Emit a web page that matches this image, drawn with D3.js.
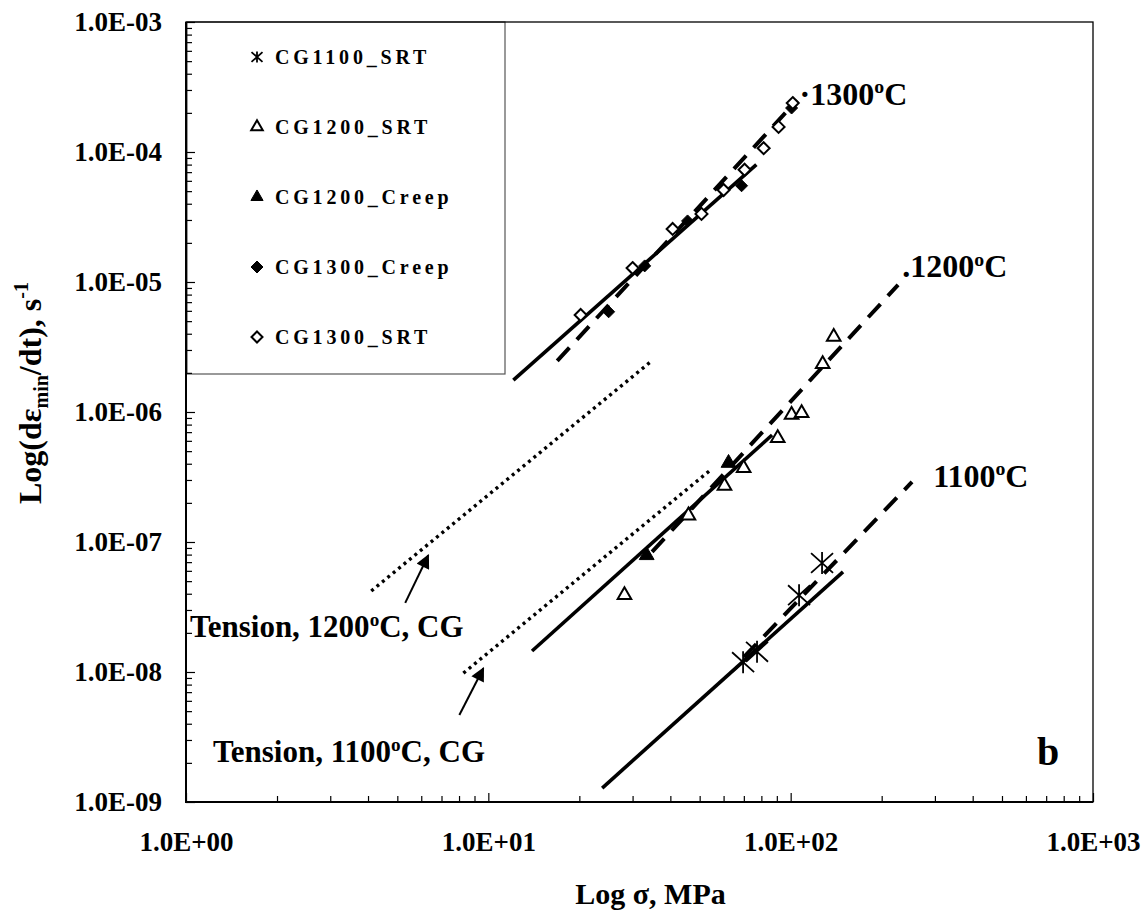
<!DOCTYPE html>
<html>
<head>
<meta charset="utf-8">
<script src="https://cdn.jsdelivr.net/npm/d3@7"></script>
<style>
body { margin: 0; background: #fff; }
text { font-family: "Liberation Serif", "Times New Roman", serif; font-weight: bold; fill: #000; }
</style>
</head>
<body>
<div id="chart"></div>
<script>

// stress (MPa), minimum creep rate (1/s)
var srt1100   = [[69.6, 1.19e-8], [77.4, 1.43e-8], [106.6, 3.9e-8], [127, 6.9e-8]]
var srt1200   = [[28.2, 3.9e-8], [45.9, 1.6e-7], [60.4, 2.7e-7], [69.9, 3.7e-7], [90.6, 6.3e-7],
                 [100.7, 9.5e-7], [108.7, 9.8e-7], [127.6, 2.34e-6], [138.8, 3.78e-6]]
var creep1200 = [[33.4, 7.9e-8], [62.3, 4.05e-7]]
var creep1300 = [[25, 5.9e-6], [32.9, 1.33e-5], [45.6, 2.95e-5], [68.8, 5.5e-5], [100.7, 2.18e-4]]
var srt1300   = [[20.2, 5.57e-6], [30, 1.28e-5], [40.7, 2.56e-5], [50.7, 3.34e-5], [60, 5.1e-5],
                 [70.4, 7.3e-5], [81.4, 1.07e-4], [91.2, 1.56e-4], [101.6, 2.38e-4]]

// fitted lines (end points)
var fit1300 = [[12.1, 1.76e-6], [77, 8.0e-5]]
var fit1300b = [[16.9, 2.47e-6], [105, 2.5e-4]]
var fit1200 = [[13.95, 1.45e-8], [86.8, 6.65e-7]]
var fit1200b = [[34.8, 8.4e-8], [226.6, 9.5e-6]]
var fit1100 = [[23.8, 1.28e-9], [149, 5.9e-8]]
var fit1100b = [[70, 1.3e-8], [252, 2.9e-7]]
var tension1200 = [[4.1, 4.2e-8], [34.4, 2.43e-6]]
var tension1100 = [[8.27, 9.8e-9], [54.3, 3.58e-7]]
var arrow1200 = [[5.31, 3.4e-8], [6.33, 7.9e-8]]
var arrow1100 = [[8.02, 4.67e-9], [9.63, 1.07e-8]]

var legendNames = ['CG1100_SRT', 'CG1200_SRT', 'CG1200_Creep', 'CG1300_Creep', 'CG1300_SRT']
var xMajor = [1, 10, 100, 1000]
var yMajor = [1e-9, 1e-8, 1e-7, 1e-6, 1e-5, 1e-4, 1e-3]

w = 1148
h = 910

var svg = d3.select("#chart")
  .append("svg")
  .attr("width", w)
  .attr("height", h)

var x = d3.scaleLog().domain([1, 1000]).range([186, 1093])
var y = d3.scaleLog().domain([1e-9, 1e-3]).range([802, 22])

function fmt(v) {
    var e = Math.round(Math.log10(v))
    var s = Math.abs(e) < 10 ? "0" + Math.abs(e) : "" + Math.abs(e)
    return "1.0E" + (e < 0 ? "-" : "+") + s
}

var xMinor = [], yMinor = []
for (var e = 0; e < 3; e++) for (var m = 2; m < 10; m++) xMinor.push(m * Math.pow(10, e))
for (var e = -9; e < -3; e++) for (var m = 2; m < 10; m++) yMinor.push(m * Math.pow(10, e))

// legend box (axis ticks show on top of it)
var leg = svg.append("g")
leg.append("rect")
   .attr("x", 187).attr("y", 22)
   .attr("width", 318).attr("height", 352)
   .style("fill", "#fff")
   .style("stroke", "#555")
   .style("stroke-width", 1.2)

// axes
function axisStyle(g) {
    g.select(".domain").remove()
    g.selectAll("line").style("stroke", "#000").style("stroke-width", 1.2)
    g.attr("font-family", null).attr("font-size", 27)
}

svg.append("g").attr("transform", "translate(0,802)")
   .call(d3.axisBottom(x).tickValues(xMinor).tickSize(-6).tickFormat(""))
   .call(axisStyle)
svg.append("g").attr("transform", "translate(0,802)")
   .call(d3.axisBottom(x).tickValues(xMajor).tickSize(-9).tickPadding(30).tickFormat(fmt))
   .call(axisStyle)
svg.append("g").attr("transform", "translate(186,0)")
   .call(d3.axisLeft(y).tickValues(yMinor).tickSize(-6).tickFormat(""))
   .call(axisStyle)
svg.append("g").attr("transform", "translate(186,0)")
   .call(d3.axisLeft(y).tickValues(yMajor).tickSize(-9).tickPadding(24).tickFormat(fmt))
   .call(axisStyle)

// frame
svg.append("rect")
   .attr("x", x(1)).attr("y", y(1e-3))
   .attr("width", x(1000) - x(1)).attr("height", y(1e-9) - y(1e-3))
   .style("fill", "none").style("stroke", "#000").style("stroke-width", 1.3)
svg.append("path")
   .attr("d", "M" + x(1) + "," + y(1e-3) + "V" + y(1e-9) + "H" + x(1000))
   .style("fill", "none").style("stroke", "#000").style("stroke-width", 2)

// lines
var line = d3.line().x(function(d) {return x(d[0]);}).y(function(d) {return y(d[1]);})

function drawLine(pts, dash, width) {
    svg.append("path")
       .datum(pts)
       .attr("d", line)
       .style("fill", "none")
       .style("stroke", "#000")
       .style("stroke-width", width)
       .style("stroke-dasharray", dash)
}
drawLine(tension1200, "3,4", 3.4)
drawLine(tension1100, "3,4", 3.4)
drawLine(fit1300, null, 3.6)
drawLine(fit1200, null, 3.6)
drawLine(fit1100, null, 3.6)
drawLine(fit1300b, "18,11", 4)
drawLine(fit1200b, "18,11", 4)
drawLine(fit1100b, "18,11", 4)

// arrows
svg.append("defs").append("marker")
   .attr("id", "head")
   .attr("viewBox", "0 0 10 10")
   .attr("refX", 9).attr("refY", 5)
   .attr("markerWidth", 7.5).attr("markerHeight", 7)
   .attr("markerUnits", "strokeWidth")
   .attr("orient", "auto")
   .append("path").attr("d", "M0,0 L10,5 L0,10 Z").style("fill", "#000")

svg.selectAll(".arrow")
   .data([arrow1200, arrow1100])
   .enter()
   .append("path")
   .attr("class", "arrow")
   .attr("d", line)
   .style("stroke", "#000")
   .style("stroke-width", 2)
   .attr("marker-end", "url(#head)")

// marker shapes
function star(s) {
    var r = s / 2
    return "M0," + (-r) + "V" + r +
           "M" + (-r) + "," + (-r * 0.9) + "L" + r + "," + (r * 0.9) +
           "M" + (-r) + "," + (r * 0.9) + "L" + r + "," + (-r * 0.9)
}
function tri(s) { return d3.symbol().type(d3.symbolTriangle).size(s)() }
function dia(s) {
    var r = s / 2
    return "M0," + (-r) + "L" + r + ",0L0," + r + "L" + (-r) + ",0Z"
}

var kinds = [
    {pts: srt1100,   path: star(22), lpath: star(11), fill: "none", sw: 1.8},
    {pts: srt1200,   path: tri(80),  lpath: tri(58),  fill: "#fff", sw: 2},
    {pts: creep1200, path: tri(95),  lpath: tri(64),  fill: "#000", sw: 1},
    {pts: creep1300, path: dia(12),  lpath: dia(12),  fill: "#000", sw: 1},
    {pts: srt1300,   path: dia(12),  lpath: dia(11),  fill: "#fff", sw: 2}
]

kinds.forEach(function(k, i) {
    svg.selectAll(".s" + i)
       .data(k.pts)
       .enter()
       .append("path")
       .attr("class", "s" + i)
       .attr("transform", function(d) {return "translate(" + x(d[0]) + "," + y(d[1]) + ")";})
       .attr("d", k.path)
       .style("fill", k.fill)
       .style("stroke", "#000")
       .style("stroke-width", k.sw)

    var row = leg.append("g").attr("transform", "translate(257," + (57 + i * 70) + ")")
    row.append("path")
       .attr("d", k.lpath)
       .style("fill", k.fill)
       .style("stroke", "#000")
       .style("stroke-width", k.sw)
    row.append("text")
       .attr("x", 18).attr("y", 7)
       .attr("font-size", 20)
       .attr("letter-spacing", 3.8)
       .text(legendNames[i])
})

// text labels with a superscript "o"
function degLabel(px, py, pre, post, size) {
    var t = svg.append("text")
               .attr("x", px).attr("y", py)
               .attr("font-size", size)
    t.append("tspan").text(pre)
    t.append("tspan").attr("font-size", size * 0.62).attr("dy", -size * 0.36).text("o")
    t.append("tspan").attr("dy", size * 0.36).text(post)
}
degLabel(x(107), y(2.3e-4), "\u00b71300", "C", 32)
degLabel(x(234), y(1.09e-5), ".1200", "C", 32)
degLabel(x(296), y(2.65e-7), "1100", "C", 32)
degLabel(x(1.03), y(1.86e-8), "Tension, 1200", "C, CG", 31)
degLabel(x(1.228), y(2.03e-9), "Tension, 1100", "C, CG", 31)

svg.append("text")
   .attr("x", x(653)).attr("y", y(1.93e-9))
   .attr("font-size", 40)
   .text("b")

// axis titles
svg.append("text")
   .attr("x", (x(1) + x(1000)) / 2 + 11).attr("y", 904)
   .attr("text-anchor", "middle")
   .attr("font-size", 30)
   .text("Log \u03c3, MPa")

var yt = svg.append("text")
   .attr("transform", "translate(41,393) rotate(-90)")
   .attr("text-anchor", "middle")
   .attr("font-size", 32)
yt.append("tspan").text("Log(d\u03b5")
yt.append("tspan").attr("font-size", 20).attr("dy", 7).text("min")
yt.append("tspan").attr("dy", -7).text("/dt), s")
yt.append("tspan").attr("font-size", 20).attr("dy", -13).text("-1")

</script>
</body>
</html>
